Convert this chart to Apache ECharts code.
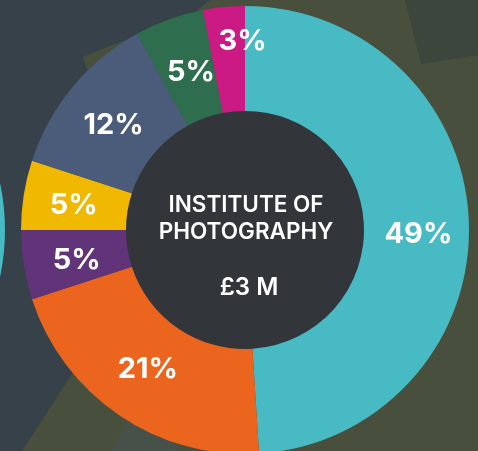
<!DOCTYPE html>
<html>
<head>
<meta charset="utf-8">
<script src="https://cdn.jsdelivr.net/npm/echarts@6/dist/echarts.min.js"></script>
<style>
html,body{margin:0;padding:0;background:#484f3d;}
#chart{width:478px;height:451px;}
</style>
</head>
<body>
<div id="chart"></div>
<script>
// ---- data ----
const categories = ['Segment A', 'Segment B', 'Segment C', 'Segment D', 'Segment E', 'Segment F', 'Segment G'];
const shares = [49, 21, 5, 5, 12, 5, 3];
const sliceColors = ['#48bac4', '#ec651f', '#613378', '#f0b800', '#4b5c7a', '#2e6e4f', '#cc1a84'];
const centerTitle = ['INSTITUTE OF', 'PHOTOGRAPHY'];
const centerValue = '£3 M';

const CX = 245, CY = 230, R_IN = 119, R_OUT = 224;
// small label nudges (styling only)
const labelNudge = [[-1, 10], [1, -5], [4, 3], [1, 3], [3, 7], [5, 6], [14, -15]];

const pieData = categories.map((name, i) => ({
  name: name,
  value: shares[i],
  itemStyle: { color: sliceColors[i] },
  label: { offset: labelNudge[i] }
}));

const chart = echarts.init(document.getElementById('chart'));
chart.setOption({
  backgroundColor: '#484f3d',
  animation: false,
  graphic: {
    elements: [
      { type: 'polygon', z: 0, silent: true,
        shape: { points: [[405,0],[421,64],[478,55],[478,0]] },
        style: { fill: '#3d463c' } },
      { type: 'polygon', z: 0, silent: true,
        shape: { points: [[112,451],[135,405],[215,405],[175,451]] },
        style: { fill: '#475049' } },
      { type: 'polygon', z: 0, silent: true,
        shape: { points: [[0,0],[210,0],[200,8],[160,45],[121,41.5],[83,57],[88,72],[160,200],[110,320],[73,372],[22,451],[0,451]] },
        style: { fill: '#36414a' } },
      { type: 'circle', z: 0, silent: true,
        shape: { cx: -219, cy: CY, r: R_OUT },
        style: { fill: '#48bac4' } },
      { type: 'circle', z: 1, silent: true,
        shape: { cx: CX, cy: CY, r: R_IN + 1 },
        style: { fill: '#32363b' } },
      { type: 'text', z: 100, silent: true, x: CX + 1, y: 205,
        style: { text: centerTitle[0], fill: '#ffffff', align: 'center', verticalAlign: 'middle',
                 font: '600 22.5px Inter' } },
      { type: 'text', z: 100, silent: true, x: CX + 1, y: 232,
        style: { text: centerTitle[1], fill: '#ffffff', align: 'center', verticalAlign: 'middle',
                 font: '600 22.5px Inter' } },
      { type: 'text', z: 100, silent: true, x: CX + 4, y: 288,
        style: { text: centerValue, fill: '#ffffff', align: 'center', verticalAlign: 'middle',
                 font: '600 24px Inter' } }
    ]
  },
  series: [{
    type: 'pie',
    z: 5,
    center: [CX, CY],
    radius: [R_IN, R_OUT],
    startAngle: 90,
    clockwise: true,
    silent: true,
    avoidLabelOverlap: false,
    itemStyle: { borderWidth: 0 },
    label: {
      show: true,
      position: 'inside',
      formatter: '{c}%',
      color: '#ffffff',
      fontFamily: 'Inter',
      fontWeight: 'bold',
      fontSize: 29
    },
    labelLine: { show: false },
    emphasis: { disabled: true },
    data: pieData
  }]
});
</script>
</body>
</html>
